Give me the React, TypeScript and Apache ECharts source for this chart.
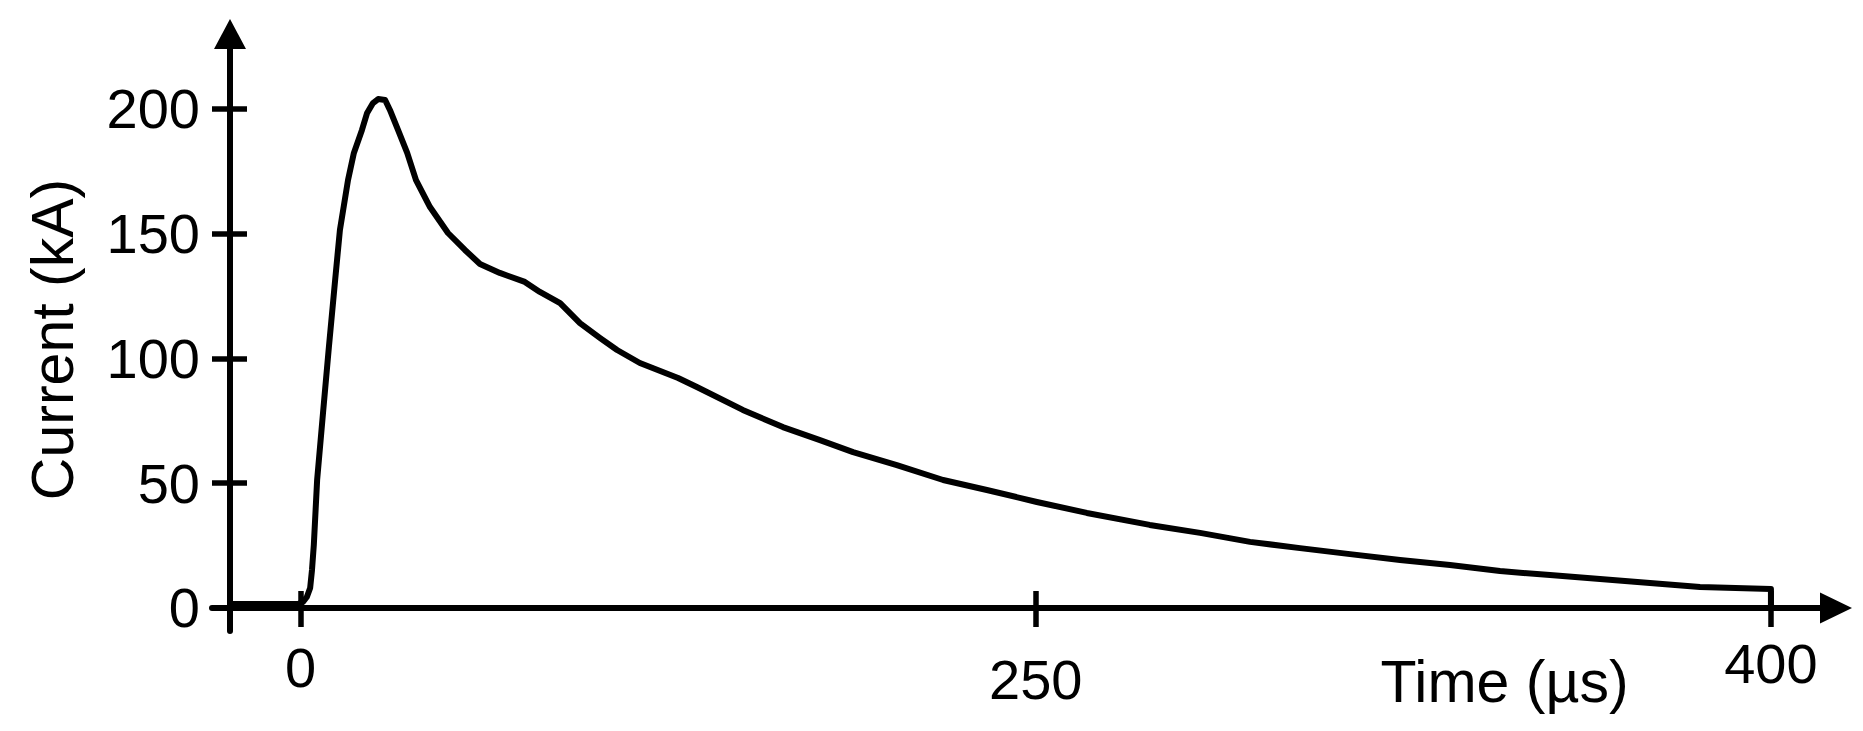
import React, { useEffect, useRef } from "react";
import * as echarts from "echarts";

// Time (µs) and current (kA)
const TIME_US = [
  -19.2, -0.7, 0.65, 1.7, 2.6, 3.1, 3.6, 4.5, 6.1, 7.7, 9.4, 10.7, 12.9, 14.5, 16.7, 18.1,
  19.7, 21.1, 23.0, 24.3, 26.5, 29.0, 31.4, 35.2, 40.1, 44.7, 48.8, 54.2, 61.0, 65.1, 70.6,
  76.0, 81.5, 86.1, 92.3, 102.7, 107.8, 120.3, 131.2, 141.3, 150.3, 162.2, 174.8, 186.7,
  200.3, 213.9, 231.0, 244.7, 258.3, 271.9, 285.5, 299.1, 312.7, 326.3, 339.9, 353.5, 367.1,
  380.7, 400, 400,
];
const CURRENT_KA = [
  1.6, 1.6, 2.4, 4.4, 8.0, 15.2, 25.3, 51.3, 78.2, 104.6, 131.5, 151.5, 171.5, 182.4, 191.6,
  198.4, 202.4, 204.0, 203.6, 199.6, 191.6, 182.4, 171.5, 160.7, 150.3, 143.5, 137.9, 134.3,
  130.7, 126.7, 122.2, 114.2, 108.2, 103.4, 98.2, 92.2, 88.6, 79.4, 72.5, 67.3, 62.5, 57.3,
  51.3, 47.3, 42.5, 38.1, 33.3, 30.1, 26.5, 24.0, 21.6, 19.2, 17.2, 14.8, 13.2, 11.6, 10.0,
  8.4, 7.6, 0,
];

const X_TICK_VALUES = [0, 200, 400];
const X_TICK_LABELS = ["0", "250", "400"];
const Y_TICK_VALUES = [0, 50, 100, 150, 200];
const X_AXIS_NAME = "Time (µs)";
const Y_AXIS_NAME = "Current (kA)";

const FONT = "'Liberation Sans', Arial, sans-serif";
const INK = "#000";

export default function App() {
  const ref = useRef<HTMLDivElement>(null);

  useEffect(() => {
    if (!ref.current) return;
    const chart = echarts.init(ref.current, null, { renderer: "svg" });
    const data = TIME_US.map((t, i) => [t, CURRENT_KA[i]]);

    const xRange = { min: -24.1, max: 417.7 };
    const yRange = { min: -9.22, max: 230.06 };
    const labelStyle = (padTop: number) => ({
      fontSize: 56,
      fontFamily: FONT,
      color: INK,
      padding: [padTop, 0, 0, 0],
    });

    const option: any = {
      animation: false,
      backgroundColor: "#fff",
      grid: {
        left: 212,
        right: 27,
        top: 34,
        bottom: 100,
        containLabel: false,
        outerBoundsMode: "none",
      },
      xAxis: [
        {
          type: "value",
          ...xRange,
          position: "bottom",
          offset: -23,
          name: X_AXIS_NAME,
          nameLocation: "middle",
          nameGap: 44,
          nameMoveOverlap: false,
          nameTextStyle: {
            fontSize: 59,
            fontFamily: FONT,
            color: INK,
            padding: [0, 0, 0, 961],
          },
          axisLine: {
            show: true,
            onZero: false,
            symbol: ["none", "triangle"],
            symbolSize: [31, 32],
            lineStyle: { color: INK, width: 6 },
          },
          axisTick: {
            show: true,
            customValues: X_TICK_VALUES,
            length: 19,
            lineStyle: { color: INK, width: 5.5 },
          },
          axisLabel: {
            show: true,
            customValues: X_TICK_VALUES,
            margin: 27,
            formatter: (v: number) => {
              const i = X_TICK_VALUES.indexOf(v);
              return `{t${i}|${X_TICK_LABELS[i] ?? ""}}`;
            },
            rich: {
              t0: labelStyle(4),
              t1: labelStyle(16),
              t2: labelStyle(0),
            },
          },
          splitLine: { show: false },
        },
        {
          type: "value",
          ...xRange,
          position: "bottom",
          offset: -23,
          axisLine: { show: false, onZero: false },
          axisTick: {
            show: true,
            inside: true,
            customValues: X_TICK_VALUES,
            length: 17,
            lineStyle: { color: INK, width: 5.5 },
          },
          axisLabel: { show: false },
          splitLine: { show: false },
        },
      ],
      yAxis: [
        {
          type: "value",
          ...yRange,
          position: "left",
          offset: -18,
          name: Y_AXIS_NAME,
          nameLocation: "middle",
          nameGap: 148,
          nameMoveOverlap: false,
          nameTextStyle: {
            fontSize: 59,
            fontFamily: FONT,
            color: INK,
            padding: [0, 14, 0, 0],
          },
          axisLine: {
            show: true,
            onZero: false,
            symbol: ["none", "triangle"],
            symbolSize: [32, 30],
            lineStyle: { color: INK, width: 6 },
          },
          axisTick: {
            show: true,
            customValues: Y_TICK_VALUES,
            length: 18,
            lineStyle: { color: INK, width: 5.5 },
          },
          axisLabel: {
            show: true,
            customValues: Y_TICK_VALUES,
            margin: 30,
            fontSize: 56,
            fontFamily: FONT,
            color: INK,
          },
          splitLine: { show: false },
        },
        {
          type: "value",
          ...yRange,
          position: "left",
          offset: -18,
          axisLine: { show: false, onZero: false },
          axisTick: {
            show: true,
            inside: true,
            customValues: Y_TICK_VALUES,
            length: 17,
            lineStyle: { color: INK, width: 5.5 },
          },
          axisLabel: { show: false },
          splitLine: { show: false },
        },
      ],
      series: [
        {
          type: "line",
          xAxisIndex: 0,
          yAxisIndex: 0,
          data,
          showSymbol: false,
          symbol: "none",
          smooth: false,
          lineStyle: { color: INK, width: 6, join: "round" },
          z: 1,
        },
      ],
    };

    chart.setOption(option);
    return () => chart.dispose();
  }, []);

  return (
    <div
      ref={ref}
      style={{
        position: "fixed",
        left: 0,
        top: 0,
        width: 1863,
        height: 731,
        background: "#fff",
      }}
    />
  );
}
